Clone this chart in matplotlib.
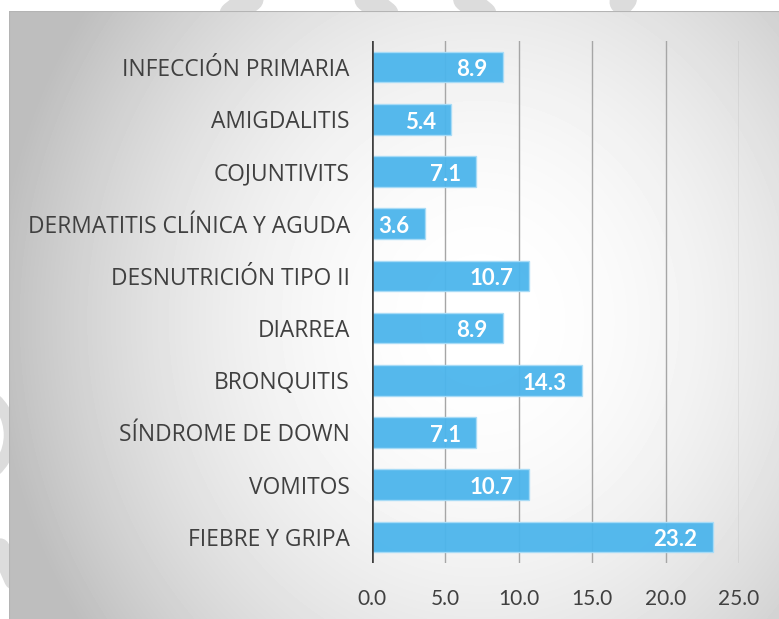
import matplotlib.pyplot as plt
import numpy as np
from matplotlib.patches import Arc

categories = ["INFECCIÓN PRIMARIA", "AMIGDALITIS", "COJUNTIVITS",
              "DERMATITIS CLÍNICA Y AGUDA", "DESNUTRICIÓN TIPO II", "DIARREA",
              "BRONQUITIS", "SÍNDROME DE DOWN", "VOMITOS", "FIEBRE Y GRIPA"]
values = [8.9, 5.4, 7.1, 3.6, 10.7, 8.9, 14.3, 7.1, 10.7, 23.2]
xticks = [0, 5, 10, 15, 20, 25]

W, H = 779, 619
fig = plt.figure(figsize=(W / 100, H / 100), dpi=100)
fig.patch.set_facecolor("white")

# faint watermark strokes peeking out around the chart box
wm = fig.add_axes([0, 0, 1, 1], zorder=0)
wm.set_xlim(0, W)
wm.set_ylim(H, 0)
wm.axis("off")
wm_col = "#dcdcdc"
for (x0, y0, x1, y1) in [(232, 14, 260, -8), (386, 14, 358, -8),
                         (484, 14, 457, -8), (622, 2, 640, -20)]:
    wm.plot([x0, x1], [y0, y1], color=wm_col, lw=18, solid_capstyle="round")
wm.add_patch(Arc((-30, 435), 80, 90, theta1=-70, theta2=70, color=wm_col, lw=9))
wm.plot([0, 14], [548, 580], color=wm_col, lw=14, solid_capstyle="round")

# chart area with radial grey gradient
bx0, by0 = 9, 11
bg = fig.add_axes([bx0 / W, 0, (W - bx0) / W, (H - by0) / H], zorder=1)
xx, yy = np.meshgrid(np.arange(bx0, W), np.arange(by0, H))
d2 = ((xx - 480) / 380) ** 2 + ((yy - 320) / 420) ** 2
shade = (255 - np.minimum(65, 40 * d2)) / 255
bg.imshow(shade, cmap="gray", vmin=0, vmax=1, aspect="auto",
          extent=(0, 1, 0, 1), interpolation="bilinear")
bg.set_xticks([])
bg.set_yticks([])
for s in bg.spines.values():
    s.set_visible(False)
bg.axvline(0, color="#b4b4b4", lw=1.5)
bg.axhline(1, color="#b4b4b4", lw=1.5)

ax = fig.add_axes([372 / W, (H - 563) / H, (739 - 372) / W, (563 - 41) / H], zorder=2)
ax.patch.set_alpha(0)

ypos = np.arange(len(categories))
ax.barh(ypos, values, height=0.59, color="#4cb5ec", alpha=0.95,
        edgecolor="#a8dcf7", linewidth=1, zorder=3)
for y, v in zip(ypos, values):
    ax.annotate(f"{v:.1f}", xy=(v, y), xytext=(-11, -2), textcoords="offset points",
                ha="right", va="center", color="white", fontsize=16,
                fontweight="bold", family="Lato", zorder=4)

ax.set_ylim(len(categories) - 0.5, -0.5)
ax.set_xlim(0, 25)
ax.set_yticks(ypos)
ax.set_yticklabels(categories, family="Open Sans", fontsize=16.4, color="#404040")
ax.set_xticks(xticks)
ax.set_xticklabels([f"{t:.1f}" for t in xticks], family="Lato", fontsize=15,
                   color="#404040")
ax.tick_params(axis="y", length=0, pad=16)
ax.tick_params(axis="x", length=0, pad=19)

ax.grid(axis="x", color="#a6a6a6", lw=1, zorder=1)
ax.set_axisbelow(True)
for name, s in ax.spines.items():
    s.set_visible(False)
ax.axvline(0, color="#404040", lw=2.6, zorder=5)

fig.savefig("out.png", dpi=100)
